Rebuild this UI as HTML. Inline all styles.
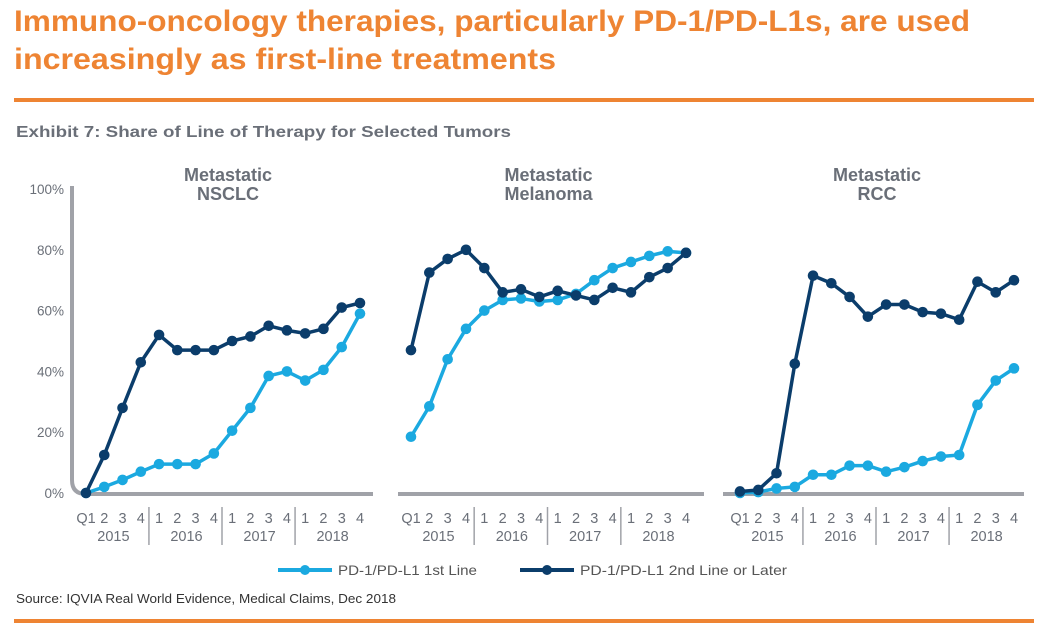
<!DOCTYPE html>
<html><head><meta charset="utf-8"><style>
body{margin:0;background:#fff;width:1046px;height:633px;overflow:hidden;font-family:"Liberation Sans",sans-serif}
svg{position:absolute;left:0;top:0}
</style></head><body>
<svg id="c" width="1046" height="633">
<text x="14" y="31" font-size="30" font-weight="bold" fill="#ee8433" textLength="956" lengthAdjust="spacingAndGlyphs">Immuno-oncology therapies, particularly PD-1/PD-L1s, are used</text>
<text x="14" y="69" font-size="30" font-weight="bold" fill="#ee8433" textLength="542" lengthAdjust="spacingAndGlyphs">increasingly as first-line treatments</text>
<rect x="14" y="98" width="1020" height="4" fill="#ee8433"/>
<text x="16" y="137" font-size="16" font-weight="bold" fill="#6a6f78" textLength="495" lengthAdjust="spacingAndGlyphs">Exhibit 7: Share of Line of Therapy for Selected Tumors</text>
<rect x="14" y="619" width="1020" height="4" fill="#ee8433"/>
<text x="16" y="603" font-size="12.5" fill="#333" textLength="380" lengthAdjust="spacingAndGlyphs">Source: IQVIA Real World Evidence, Medical Claims, Dec 2018</text>
<g>
<line x1="278" y1="570" x2="332" y2="570" stroke="#1ba9e0" stroke-width="4"/><circle cx="305" cy="570" r="5" fill="#1ba9e0"/>
<text x="338" y="575" font-size="14" fill="#555" textLength="139" lengthAdjust="spacingAndGlyphs">PD-1/PD-L1 1st Line</text>
<line x1="520" y1="570" x2="574" y2="570" stroke="#0b3d6b" stroke-width="4"/><circle cx="547" cy="570" r="5" fill="#0b3d6b"/>
<text x="580" y="575" font-size="14" fill="#555" textLength="207" lengthAdjust="spacingAndGlyphs">PD-1/PD-L1 2nd Line or Later</text>
</g>
</svg>
<script>
const panelTitles=[["Metastatic","NSCLC"],["Metastatic","Melanoma"],["Metastatic","RCC"]];
const quarters=["Q1","2","3","4","1","2","3","4","1","2","3","4","1","2","3","4"];
const years=["2015","2016","2017","2018"];
const yTicks=[0,20,40,60,80,100];
const nsclcFirst=[0,2,4.3,7,9.5,9.5,9.5,13,20.5,28,38.5,40,37,40.5,48,59];
const nsclcSecond=[0,12.5,28,43,52,47,47,47,50,51.5,55,53.5,52.5,54,61,62.5];
const melFirst=[18.5,28.5,44,54,60,63.5,64,63,63.5,65.5,70,74,76,78,79.5,79];
const melSecond=[47,72.5,77,80,74,66,67,64.5,66.5,65,63.5,67.5,66,71,74,79];
const rccFirst=[0,0.3,1.5,2,6,6,9,9,7,8.5,10.5,12,12.5,29,37,41];
const rccSecond=[0.5,1,6.5,42.5,71.5,69,64.5,58,62,62,59.5,59,57,69.5,66,70];
const series=[[nsclcFirst,nsclcSecond],[melFirst,melSecond],[rccFirst,rccSecond]];
const panels=[{x0:86,x1:360,ax0:72,ax1:373,name:"nsclc"},{x0:411,x1:686,ax0:398,ax1:704,name:"melanoma"},{x0:740,x1:1014,ax0:723,ax1:1024,name:"rcc"}];
const NS="http://www.w3.org/2000/svg",svg=document.getElementById('c');
const yS=v=>493-v*3.04;
function mk(t,a,p){const e=document.createElementNS(NS,t);for(const k in a)e.setAttribute(k,a[k]);(p||svg).appendChild(e);return e;}
yTicks.forEach(v=>{const t=mk('text',{x:64,y:yS(v)+5,'text-anchor':'end','font-size':13.5,fill:'#6a6f78'});t.textContent=v+'%';

});
panels.forEach((p,pi)=>{
const g=mk('g',{});


const xS=i=>p.x0+i*(p.x1-p.x0)/15;
const cx=(p.x0+p.x1)/2-(pi==0?5:0);
panelTitles[pi].forEach((s,k)=>{const t=mk('text',{x:pi==0?cx+10:cx,y:181+k*19,'text-anchor':'middle','font-size':18,'font-weight':'bold',fill:'#6a6f78'},g);t.textContent=s;

});
let ax;
if(pi==0){ax=mk('path',{d:`M72 186 V480 Q72 494 86 494 H${p.ax1}`,fill:'none',stroke:'#a0a2a8','stroke-width':4},g);}
else ax=mk('line',{x1:p.ax0,y1:494,x2:p.ax1,y2:494,stroke:'#a0a2a8','stroke-width':4},g);


quarters.forEach((q,i)=>{const t=mk('text',{x:xS(i),y:523,'text-anchor':'middle','font-size':14.5,fill:'#6a6f78'},g);t.textContent=q;

});
years.forEach((y,j)=>{const t=mk('text',{x:(xS(j*4)+xS(j*4+3))/2,y:541,'text-anchor':'middle','font-size':14.5,fill:'#6a6f78'},g);t.textContent=y;


if(j>0){const sx=(xS(j*4-1)+xS(j*4))/2-1;const l=mk('line',{x1:sx,y1:507,x2:sx,y2:545,stroke:'#a0a2a8','stroke-width':1.5},g);

}});
[["#1ba9e0","first-line"],["#0b3d6b","second-line"]].forEach(([col,nm],si)=>{
const vals=series[pi][si];
const pl=mk('polyline',{points:vals.map((v,i)=>xS(i)+','+yS(v)).join(' '),fill:'none',stroke:col,'stroke-width':3.5,'stroke-linejoin':'round'},g);


vals.forEach((v,i)=>{const c=mk('circle',{cx:xS(i),cy:yS(v),r:5.3,fill:col},g);

});
});
});
</script>
</body></html>
